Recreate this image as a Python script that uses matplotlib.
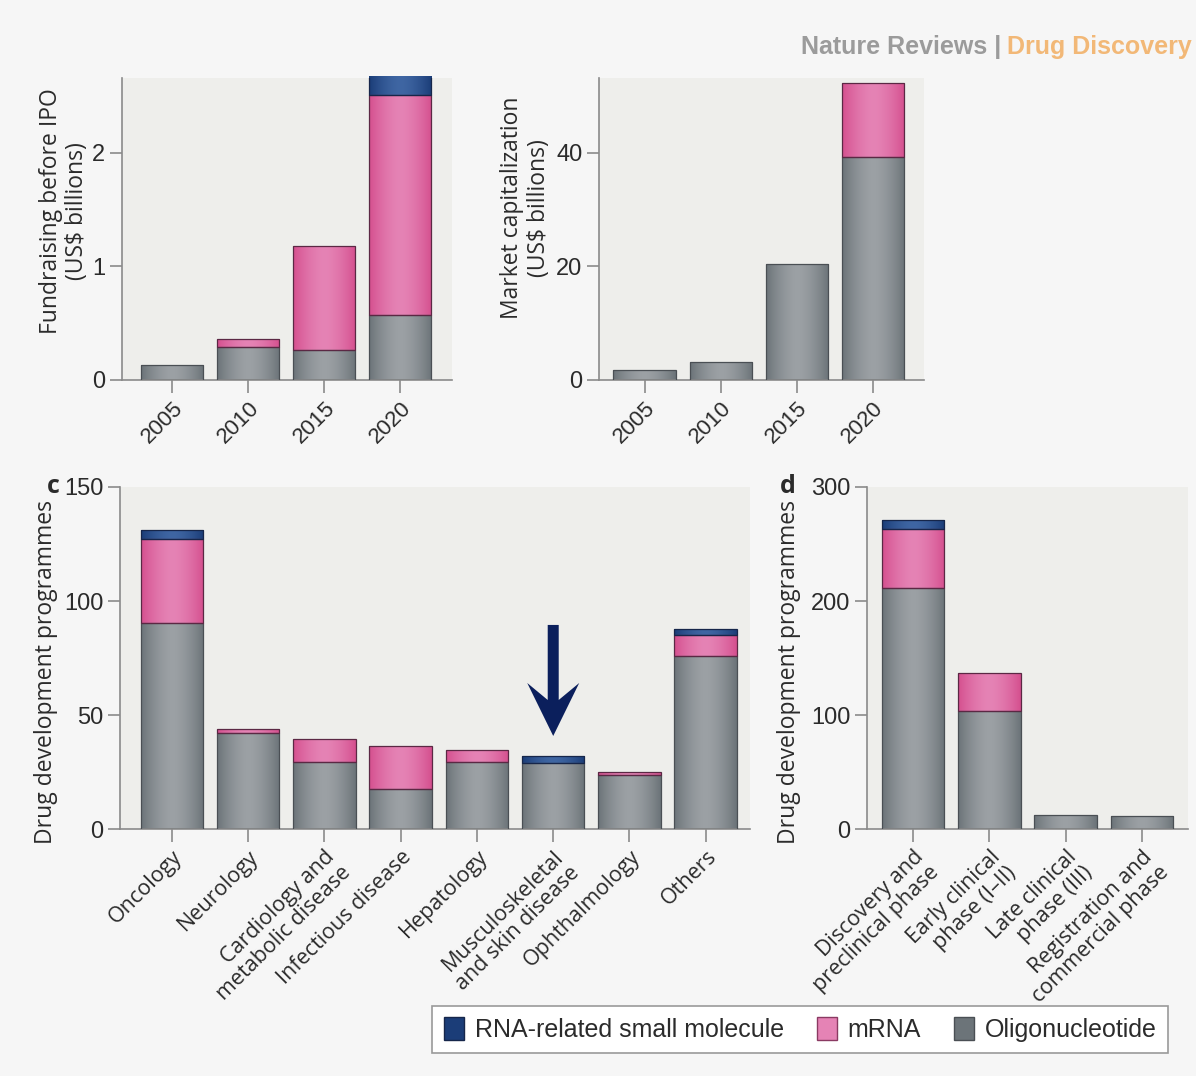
import numpy as np
import matplotlib
matplotlib.use("Agg")
import matplotlib.pyplot as plt
from matplotlib import font_manager
from matplotlib.patches import Patch, Polygon
from matplotlib.transforms import ScaledTranslation

# ---- data -------------------------------------------------------------
years = ["2005", "2010", "2015", "2020"]
fund_oligo = [0.13, 0.29, 0.26, 0.57]
fund_mrna = [0.00, 0.07, 0.92, 1.94]
fund_small = [0.00, 0.00, 0.00, 0.17]

mcap_oligo = [1.8, 3.1, 20.4, 39.3]
mcap_mrna = [0.0, 0.0, 0.0, 13.0]
mcap_small = [0.0, 0.0, 0.0, 0.0]

areas = ["Oncology", "Neurology", "Cardiology and\nmetabolic disease",
         "Infectious disease", "Hepatology", "Musculoskeletal\nand skin disease",
         "Ophthalmology", "Others"]
area_oligo = [90.3, 42.0, 29.3, 17.4, 29.3, 29.1, 23.6, 75.7]
area_mrna = [37.0, 1.8, 10.1, 19.2, 5.4, 0.0, 1.3, 9.3]
area_small = [3.7, 0.0, 0.0, 0.0, 0.0, 3.1, 0.0, 2.5]

phases = ["Discovery and\npreclinical phase", "Early clinical\nphase (I\u2013II)",
          "Late clinical\nphase (III)", "Registration and\ncommercial phase"]
phase_oligo = [211.8, 103.9, 12.6, 11.0]
phase_mrna = [51.7, 33.0, 0.0, 0.0]
phase_small = [7.8, 0.0, 0.0, 0.0]

series_names = ["RNA-related small molecule", "mRNA", "Oligonucleotide"]

# highlighted category in panel c: arrow from top value down to the tip value
arrow_index = 5
arrow_from, arrow_to = 89.5, 40.8

# ---- style ------------------------------------------------------------
names = {f.name for f in font_manager.fontManager.ttflist}
NARROW = "Liberation Sans Narrow" if "Liberation Sans Narrow" in names else "Liberation Sans"
LABEL = "Open Sans"

FIG_BG = "#f6f6f6"
AX_BG = "#eeeeeb"
SPINE = "#8a8a8a"
TXT = "#2b2b2b"
# (edge shade, centre highlight) per series
GRAY = ("#6c7479", "#9ca1a5")
PINK = ("#d5508f", "#e583b5")
BLUE = ("#1b3d78", "#3f66a3")
EDGE = "#4a4f54"
ARROW = "#0b1f5c"

W, H = 1196, 1076
fig = plt.figure(figsize=(W / 100, H / 100), dpi=100, facecolor=FIG_BG)


def box(x0, y0, x1, y1):
    return [x0 / W, 1 - y1 / H, (x1 - x0) / W, (y1 - y0) / H]


def shaded(ax, bars, cols):
    """Give each bar a soft horizontal cylinder-like shading."""
    grad = 1 - np.abs(np.linspace(-1, 1, 64)) ** 1.6
    c0 = np.array(matplotlib.colors.to_rgb(cols[0]))
    c1 = np.array(matplotlib.colors.to_rgb(cols[1]))
    img = (c0[None, :] * (1 - grad[:, None]) + c1[None, :] * grad[:, None])[None, :, :]
    for b in bars:
        x, y = b.get_x(), b.get_y()
        w, h = b.get_width(), b.get_height()
        if h <= 0:
            continue
        im = ax.imshow(img, extent=(x, x + w, y, y + h), aspect="auto",
                       interpolation="bilinear", zorder=2)
        im.set_clip_path(b)
        b.set_facecolor("none")
        b.set_zorder(3)


def stacked(ax, labels, oligo, mrna, small, ylim, yticks, xlim):
    x = np.arange(len(labels))
    wd = 0.82
    oligo = np.array(oligo)
    mrna = np.array(mrna)
    small = np.array(small)
    b1 = ax.bar(x, oligo, wd, edgecolor=EDGE, linewidth=0.9)
    shaded(ax, b1, GRAY)
    m = mrna > 0
    b2 = ax.bar(x[m], mrna[m], wd, bottom=oligo[m], edgecolor="#5b2844", linewidth=0.9)
    shaded(ax, b2, PINK)
    s = small > 0
    b3 = ax.bar(x[s], small[s], wd, bottom=(oligo + mrna)[s], edgecolor="#16264a", linewidth=0.9)
    shaded(ax, b3, BLUE)
    ax.set_facecolor(AX_BG)
    ax.set_xlim(*xlim)
    ax.set_ylim(*ylim)
    ax.set_yticks(yticks)
    ax.set_xticks(x)
    for sp in ("top", "right"):
        ax.spines[sp].set_visible(False)
    for sp in ("left", "bottom"):
        ax.spines[sp].set_color(SPINE)
        ax.spines[sp].set_linewidth(1.2)
    ax.tick_params(axis="both", color=SPINE, width=1.2, length=9, labelcolor=TXT)
    ax.tick_params(axis="y", labelsize=17, pad=3)
    for t in ax.get_yticklabels():
        t.set_family(NARROW)
    return x


# ---- panel a: fundraising --------------------------------------------
ax_a = fig.add_axes(box(122, 78, 452, 380))
stacked(ax_a, years, fund_oligo, fund_mrna, fund_small,
        (0, 2.66), [0, 1, 2], (-0.66, 3.68))
ax_a.set_xticklabels(years, rotation=45, ha="right", rotation_mode="anchor",
                     fontsize=16, family=NARROW, color=TXT)
ax_a.set_ylabel("Fundraising before IPO\n(US$ billions)", fontsize=16.5,
                family=LABEL, color=TXT, labelpad=2, linespacing=1.15)
ax_a.yaxis.label.set_y(0.56)

# ---- panel b: market capitalization ----------------------------------
ax_b = fig.add_axes(box(599, 78, 924, 380))
stacked(ax_b, years, mcap_oligo, mcap_mrna, mcap_small,
        (0, 53.2), [0, 20, 40], (-0.6, 3.67))
ax_b.set_xticklabels(years, rotation=45, ha="right", rotation_mode="anchor",
                     fontsize=16, family=NARROW, color=TXT)
ax_b.set_ylabel("Market capitalization\n(US$ billions)", fontsize=16.5,
                family=LABEL, color=TXT, labelpad=4, linespacing=1.15)
ax_b.yaxis.label.set_y(0.57)

# ---- panel c: therapeutic areas --------------------------------------
ax_c = fig.add_axes(box(120, 487, 750, 829))
stacked(ax_c, areas, area_oligo, area_mrna, area_small,
        (0, 150), [0, 50, 100, 150], (-0.68, 7.58))
ax_c.set_xticklabels(areas, rotation=45, ha="right", rotation_mode="anchor",
                     fontsize=15.5, family=LABEL, color=TXT, linespacing=1.1)
ax_c.set_ylabel("Drug development programmes", fontsize=16.5, family=LABEL,
                color=TXT)
ax_c.yaxis.set_label_coords(-0.098, 0.46)

# downward arrow: polygon outline in inches, anchored at the data tip
tip = ScaledTranslation(arrow_index, arrow_to, ax_c.transData)
shaft_top = ax_c.transData.transform((0, arrow_from))[1] - ax_c.transData.transform((0, arrow_to))[1]
hw, hl, notch, sw = 0.26, 0.53, 0.36, 0.055
st = shaft_top / fig.dpi
outline = [(0, 0), (hw, hl), (sw, notch), (sw, st), (-sw, st), (-sw, notch), (-hw, hl)]
ax_c.add_patch(Polygon(outline, closed=True, facecolor=ARROW, edgecolor="none",
                       transform=fig.dpi_scale_trans + tip, zorder=6, clip_on=False))

fig.text(47 / W, 1 - 487 / H, "c", fontsize=18, fontweight="bold",
         family=LABEL, color=TXT, ha="left", va="center")

# ---- panel d: development phases -------------------------------------
ax_d = fig.add_axes(box(867, 487, 1188, 829))
stacked(ax_d, phases, phase_oligo, phase_mrna, phase_small,
        (0, 300), [0, 100, 200, 300], (-0.6, 3.6))
ax_d.set_xticklabels(phases, rotation=45, ha="right", rotation_mode="anchor",
                     fontsize=15.5, family=LABEL, color=TXT, linespacing=1.1)
ax_d.set_ylabel("Drug development programmes", fontsize=16.5, family=LABEL,
                color=TXT)
ax_d.yaxis.set_label_coords(-0.205, 0.46)
fig.text(780 / W, 1 - 487 / H, "d", fontsize=18, fontweight="bold",
         family=LABEL, color=TXT, ha="left", va="center")

# ---- legend ------------------------------------------------------------
handles = [Patch(facecolor=BLUE[0], edgecolor="#16264a"),
           Patch(facecolor=PINK[1], edgecolor="#8a3a62"),
           Patch(facecolor=GRAY[0], edgecolor=EDGE)]
leg = fig.legend(handles, series_names, ncol=3, loc="upper right",
                 bbox_to_anchor=(1168 / W, 1 - 1006 / H), borderaxespad=0,
                 frameon=True, fancybox=False, edgecolor="#9a9a9a",
                 facecolor="white", prop={"family": NARROW, "size": 18},
                 handlelength=0.8, handleheight=1.0, handletextpad=0.45,
                 columnspacing=1.3, borderpad=0.45, framealpha=1)
leg.get_frame().set_linewidth(1.2)
for t in leg.get_texts():
    t.set_color(TXT)

# ---- journal banner ---------------------------------------------------
fig.text(1001 / W, 1 - 47 / H, "Nature Reviews |", fontsize=18, fontweight="bold",
         family=NARROW, color="#9b9b9b", ha="right", va="center")
fig.text(1007 / W, 1 - 47 / H, "Drug Discovery", fontsize=18, fontweight="bold",
         family=NARROW, color="#f2b877", ha="left", va="center")

fig.savefig("out.png", dpi=100, facecolor=FIG_BG)
